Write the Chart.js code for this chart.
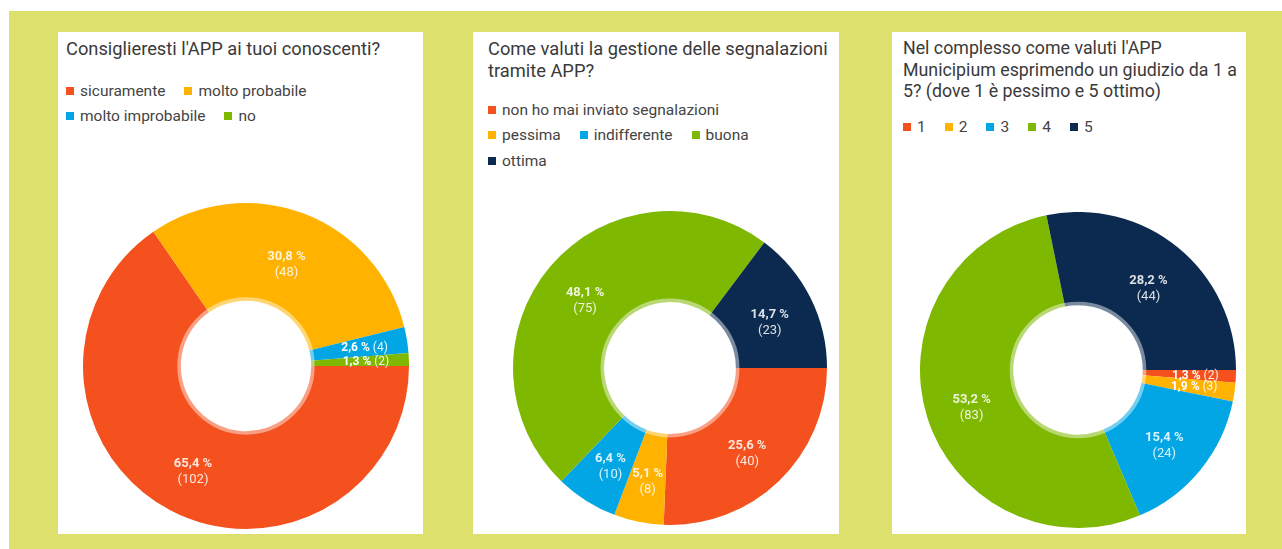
<!DOCTYPE html>
<html>
<head>
<meta charset="utf-8">
<script src="https://cdn.jsdelivr.net/npm/chart.js@4.4.1/dist/chart.umd.min.js"></script>
<style>
  body { margin: 0; background: #fff; font-family: Roboto, "Noto Sans", sans-serif; }
  #sfondo { position: absolute; left: 9px; top: 11px; width: 1273px; height: 538px; background: #dde06c; }
  .panel { position: absolute; top: 32px; height: 502px; background: #fff; }
  .titolo { position: absolute; left: 8px; top: 6px; font-size: 18.3px; line-height: 21.7px; color: #3a3a3a; white-space: pre; }
  .legenda { position: absolute; left: 8px; display: flex; flex-wrap: wrap; font-size: 15.5px; color: #444; }
  .voce { display: flex; align-items: center; height: 25.5px; margin-right: 19px; }
  .quadro { width: 8px; height: 8px; margin-right: 6px; }
  canvas { position: absolute; }
</style>
</head>
<body>
<div id="sfondo"></div>

<div class="panel" style="left:58px;width:365px">
  <div class="titolo" id="titolo1"></div>
  <div class="legenda" id="legenda1" style="top:46px;width:300px"></div>
</div>
<div class="panel" style="left:473px;width:366px">
  <div class="titolo" id="titolo2" style="left:15px"></div>
  <div class="legenda" id="legenda2" style="left:15px;top:65px;width:300px"></div>
</div>
<div class="panel" style="left:892px;width:354px">
  <div class="titolo" id="titolo3" style="left:11px;top:5px;font-size:17.8px"></div>
  <div class="legenda" id="legenda3" style="left:11px;top:82px;width:330px"></div>
</div>

<canvas id="grafico1" width="326" height="326" style="left:83px;top:203px"></canvas>
<canvas id="grafico2" width="314" height="314" style="left:513px;top:211px"></canvas>
<canvas id="grafico3" width="316" height="316" style="left:920px;top:212px"></canvas>

<script>
// Colori
const ROSSO = "#f4511e";
const GIALLO = "#ffb300";
const AZZURRO = "#03a6e4";
const VERDE = "#7fb800";
const BLU = "#0c2a50";

// Grafico 1
const titolo1 = "Consiglieresti l'APP ai tuoi conoscenti?";
const categorie1 = ["sicuramente", "molto probabile", "molto improbabile", "no"];
const risposte1 = [102, 48, 4, 2];
const colori1 = [ROSSO, GIALLO, AZZURRO, VERDE];

// Grafico 2
const titolo2 = "Come valuti la gestione delle segnalazioni\ntramite APP?";
const categorie2 = ["non ho mai inviato segnalazioni", "pessima", "indifferente", "buona", "ottima"];
const risposte2 = [40, 8, 10, 75, 23];
const colori2 = [ROSSO, GIALLO, AZZURRO, VERDE, BLU];

// Grafico 3
const titolo3 = "Nel complesso come valuti l'APP\nMunicipium esprimendo un giudizio da 1 a\n5? (dove 1 è pessimo e 5 ottimo)";
const categorie3 = ["1", "2", "3", "4", "5"];
const risposte3 = [2, 3, 24, 83, 44];
const colori3 = [ROSSO, GIALLO, AZZURRO, VERDE, BLU];

// Legenda HTML
function creaLegenda(id, categorie, colori) {
  const el = document.getElementById(id);
  categorie.forEach((c, i) => {
    const voce = document.createElement("div");
    voce.className = "voce";
    voce.innerHTML = `<span class="quadro" style="background:${colori[i]}"></span><span>${c}</span>`;
    el.appendChild(voce);
  });
}

// Etichette percentuali sulle fette
const etichette = {
  id: "etichette",
  afterDatasetsDraw(chart) {
    const ctx = chart.ctx;
    const valori = chart.data.datasets[0].data;
    const totale = valori.reduce((a, b) => a + b, 0);
    const archi = chart.getDatasetMeta(0).data;

    // bordo chiaro attorno al foro
    const a0 = archi[0];
    ctx.save();
    ctx.beginPath();
    ctx.arc(a0.x, a0.y, a0.innerRadius + 1.5, 0, Math.PI * 2);
    ctx.strokeStyle = "rgba(255,255,255,0.45)";
    ctx.lineWidth = 4;
    ctx.stroke();
    ctx.restore();

    archi.forEach((arco, i) => {
      const perc = valori[i] / totale * 100;
      const testoPerc = perc.toFixed(1).replace(".", ",") + " %";
      const testoN = "(" + valori[i] + ")";
      const medio = (arco.startAngle + arco.endAngle) / 2;
      ctx.save();
      ctx.textBaseline = "middle";
      if (perc >= 4) {
        const r = (arco.innerRadius + arco.outerRadius) / 2;
        const x = arco.x + Math.cos(medio) * r;
        const y = arco.y + Math.sin(medio) * r + 5;
        ctx.textAlign = "center";
        ctx.fillStyle = "rgba(255,255,255,0.85)";
        ctx.font = "bold 13px Roboto";
        ctx.fillText(testoPerc, x, y - 8);
        ctx.font = "13px Roboto";
        ctx.fillText(testoN, x, y + 8);
      } else {
        const r = (arco.innerRadius + arco.outerRadius) / 2 + 6;
        const x = arco.x + Math.cos(medio) * r;
        const y = arco.y + Math.sin(medio) * r + 1;
        ctx.font = "bold 12px Roboto";
        const w1 = ctx.measureText(testoPerc + " ").width;
        ctx.font = "12px Roboto";
        const w2 = ctx.measureText(testoN).width;
        const x0 = x - (w1 + w2) / 2;
        ctx.textAlign = "left";
        ctx.fillStyle = "#fff";
        ctx.font = "bold 12px Roboto";
        ctx.fillText(testoPerc, x0, y);
        ctx.fillStyle = "rgba(255,255,255,0.9)";
        ctx.font = "12px Roboto";
        ctx.fillText(testoN, x0 + w1, y);
      }
      ctx.restore();
    });
  }
};

function creaGrafico(id, categorie, risposte, colori, foro) {
  new Chart(document.getElementById(id), {
    type: "doughnut",
    data: {
      labels: categorie,
      datasets: [{ data: risposte, backgroundColor: colori, borderWidth: 0 }]
    },
    options: {
      responsive: false,
      animation: false,
      cutout: foro,
      rotation: 90,
      layout: { padding: 0 },
      plugins: { legend: { display: false }, tooltip: { enabled: false } }
    },
    plugins: [etichette]
  });
}

document.getElementById("titolo1").textContent = titolo1;
document.getElementById("titolo2").textContent = titolo2;
document.getElementById("titolo3").textContent = titolo3;

creaLegenda("legenda1", categorie1, colori1);
creaLegenda("legenda2", categorie2, colori2);
creaLegenda("legenda3", categorie3, colori3);

creaGrafico("grafico1", categorie1, risposte1, colori1, "40%");
creaGrafico("grafico2", categorie2, risposte2, colori2, "42%");
creaGrafico("grafico3", categorie3, risposte3, colori3, "41%");
</script>
</body>
</html>
